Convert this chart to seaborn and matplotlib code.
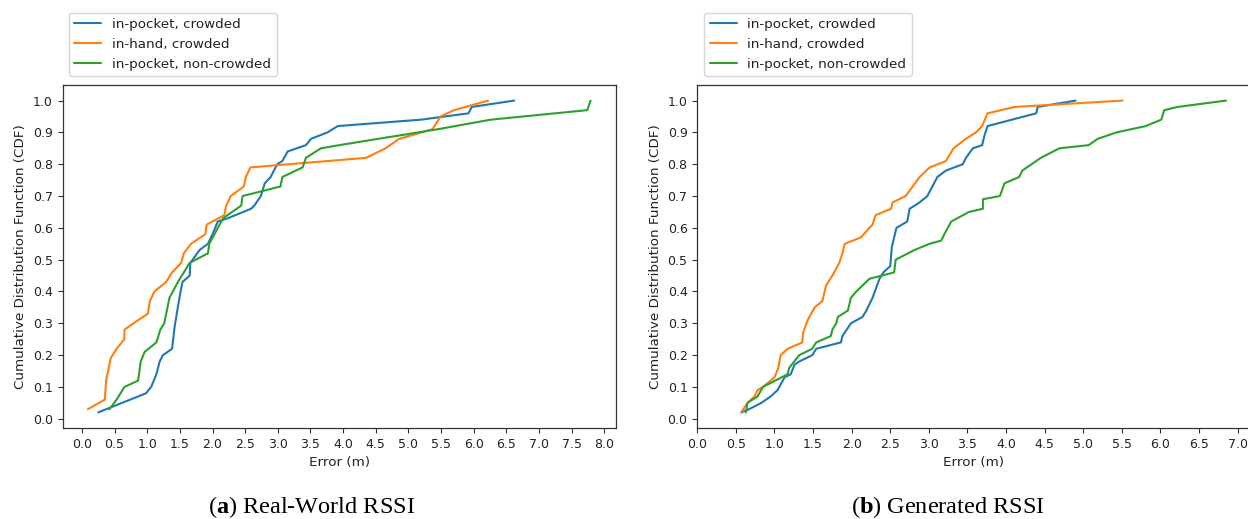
import matplotlib
matplotlib.use("Agg")
import matplotlib.pyplot as plt
import numpy as np
import pandas as pd
import seaborn as sns
from matplotlib.ticker import MultipleLocator

# ---------------- data ----------------
series_labels = ["in-pocket, crowded", "in-hand, crowded", "in-pocket, non-crowded"]
panel_captions = [r"($\mathbf{a}$) Real-World RSSI", r"($\mathbf{b}$) Generated RSSI"]
x_label = "Error (m)"
y_label = "Cumulative Distribution Function (CDF)"

# (a) Real-world RSSI
real_pocket_crowded_x = [0.25, 0.98, 1.06, 1.14, 1.19, 1.24, 1.38, 1.42, 1.46, 1.51, 1.54, 1.65, 1.66,
                         1.80, 1.93, 2.00, 2.08, 2.23, 2.59, 2.64, 2.74, 2.80, 2.89, 2.99, 3.07, 3.15,
                         3.43, 3.51, 3.76, 3.92, 5.19, 5.92, 5.97, 6.62]
real_pocket_crowded_y = [0.02, 0.08, 0.10, 0.14, 0.18, 0.20, 0.22, 0.29, 0.34, 0.40, 0.43, 0.45, 0.49,
                         0.53, 0.55, 0.58, 0.62, 0.63, 0.66, 0.67, 0.70, 0.74, 0.76, 0.80, 0.81, 0.84,
                         0.86, 0.88, 0.90, 0.92, 0.94, 0.96, 0.98, 1.00]

real_hand_crowded_x = [0.09, 0.35, 0.37, 0.40, 0.44, 0.53, 0.65, 0.65, 0.86, 1.01, 1.04, 1.11, 1.29,
                       1.38, 1.52, 1.56, 1.67, 1.89, 1.91, 2.18, 2.21, 2.28, 2.48, 2.51, 2.58, 4.35,
                       4.65, 4.86, 5.37, 5.49, 5.70, 6.22]
real_hand_crowded_y = [0.03, 0.06, 0.12, 0.15, 0.19, 0.22, 0.25, 0.28, 0.31, 0.33, 0.37, 0.40, 0.43,
                       0.46, 0.49, 0.52, 0.55, 0.58, 0.61, 0.64, 0.67, 0.70, 0.73, 0.76, 0.79, 0.82,
                       0.85, 0.88, 0.91, 0.95, 0.97, 1.00]

real_pocket_noncrowded_x = [0.42, 0.53, 0.65, 0.86, 0.90, 0.96, 1.14, 1.20, 1.26, 1.29, 1.34, 1.47, 1.65,
                            1.93, 1.95, 2.16, 2.44, 2.46, 3.04, 3.07, 3.38, 3.43, 3.66, 3.94, 5.45, 6.26,
                            7.74, 7.79]
real_pocket_noncrowded_y = [0.03, 0.06, 0.10, 0.12, 0.18, 0.21, 0.24, 0.28, 0.30, 0.33, 0.38, 0.43, 0.49,
                            0.52, 0.55, 0.63, 0.67, 0.70, 0.73, 0.76, 0.79, 0.82, 0.85, 0.86, 0.91, 0.94,
                            0.97, 1.00]

# (b) Generated RSSI
gen_pocket_crowded_x = [0.57, 0.67, 0.83, 0.95, 1.04, 1.13, 1.21, 1.26, 1.32, 1.49, 1.54, 1.86, 1.88,
                        1.99, 2.14, 2.19, 2.27, 2.36, 2.41, 2.50, 2.52, 2.58, 2.72, 2.75, 2.88, 2.98,
                        3.11, 3.22, 3.44, 3.48, 3.57, 3.69, 3.72, 3.76, 4.39, 4.41, 4.90]
gen_pocket_crowded_y = [0.02, 0.03, 0.05, 0.07, 0.09, 0.13, 0.14, 0.17, 0.18, 0.20, 0.22, 0.24, 0.26,
                        0.30, 0.32, 0.34, 0.38, 0.44, 0.46, 0.48, 0.54, 0.60, 0.62, 0.66, 0.68, 0.70,
                        0.76, 0.78, 0.80, 0.82, 0.85, 0.86, 0.89, 0.92, 0.96, 0.98, 1.00]

gen_hand_crowded_x = [0.57, 0.65, 0.74, 0.78, 0.85, 1.00, 1.05, 1.08, 1.17, 1.36, 1.37, 1.43, 1.52,
                      1.62, 1.67, 1.75, 1.84, 1.88, 1.91, 2.12, 2.23, 2.27, 2.31, 2.51, 2.53, 2.70,
                      2.79, 2.88, 3.01, 3.22, 3.32, 3.48, 3.61, 3.69, 3.76, 4.11, 5.51]
gen_hand_crowded_y = [0.02, 0.05, 0.07, 0.09, 0.10, 0.13, 0.16, 0.20, 0.22, 0.24, 0.27, 0.31, 0.35,
                      0.37, 0.42, 0.45, 0.49, 0.52, 0.55, 0.57, 0.60, 0.61, 0.64, 0.66, 0.68, 0.70,
                      0.73, 0.76, 0.79, 0.81, 0.85, 0.88, 0.90, 0.92, 0.96, 0.98, 1.00]

gen_pocket_noncrowded_x = [0.63, 0.65, 0.78, 0.85, 1.17, 1.19, 1.32, 1.49, 1.54, 1.73, 1.75, 1.80, 1.82,
                           1.95, 1.99, 2.06, 2.23, 2.55, 2.57, 2.81, 3.01, 3.16, 3.20, 3.29, 3.52, 3.70,
                           3.70, 3.92, 3.98, 4.17, 4.21, 4.45, 4.69, 5.07, 5.19, 5.43, 5.81, 6.01, 6.05,
                           6.22, 6.85]
gen_pocket_noncrowded_y = [0.02, 0.05, 0.07, 0.10, 0.14, 0.16, 0.20, 0.22, 0.24, 0.26, 0.28, 0.30, 0.32,
                           0.34, 0.38, 0.40, 0.44, 0.46, 0.50, 0.53, 0.55, 0.56, 0.58, 0.62, 0.65, 0.66,
                           0.69, 0.70, 0.74, 0.76, 0.78, 0.82, 0.85, 0.86, 0.88, 0.90, 0.92, 0.94, 0.97,
                           0.98, 1.00]

panels = [
    [(real_pocket_crowded_x, real_pocket_crowded_y),
     (real_hand_crowded_x, real_hand_crowded_y),
     (real_pocket_noncrowded_x, real_pocket_noncrowded_y)],
    [(gen_pocket_crowded_x, gen_pocket_crowded_y),
     (gen_hand_crowded_x, gen_hand_crowded_y),
     (gen_pocket_noncrowded_x, gen_pocket_noncrowded_y)],
]

# ---------------- style ----------------
sns.set_theme(style="ticks", rc={
    "axes.edgecolor": "#333333", "axes.linewidth": 0.9,
    "xtick.color": "#333333", "ytick.color": "#333333",
    "xtick.labelcolor": "#222222", "ytick.labelcolor": "#222222",
    "xtick.major.size": 3.5, "ytick.major.size": 3.5,
    "xtick.major.width": 0.8, "ytick.major.width": 0.8,
    "xtick.labelsize": 9.0, "ytick.labelsize": 9.0,
    "axes.labelsize": 9.7, "axes.labelcolor": "#222222",
    "text.color": "#222222",
})
plt.rcParams["font.family"] = ["DejaVu Sans"]
plt.rcParams["mathtext.fontset"] = "custom"
plt.rcParams["mathtext.rm"] = "Liberation Serif"
plt.rcParams["mathtext.bf"] = "Liberation Serif:bold"

palette = ["#1f77b4", "#ff7f0e", "#2ca02c"]

W, H = 1248, 519
fig = plt.figure(figsize=(W / 100, H / 100), dpi=100)

ax_rects = [
    (62.7 / W, 1 - 428 / H, 553 / W, 343 / H),
    (697.3 / W, 1 - 428 / H, 553 / W, 343 / H),
]
legend_anchor = [(69 / W, 1 - 12.7 / H), (704.3 / W, 1 - 12.7 / H)]
caption_pos = [(312 / W, 1 - 507 / H), (948 / W, 1 - 507 / H)]

for i, series in enumerate(panels):
    ax = fig.add_axes(ax_rects[i])
    frames = []
    for lab, (xs, ys) in zip(series_labels, series):
        frames.append(pd.DataFrame({"x": xs, "y": ys, "series": lab}))
    df = pd.concat(frames, ignore_index=True)
    sns.lineplot(data=df, x="x", y="y", hue="series", hue_order=series_labels,
                 palette=palette, sort=False, estimator=None, linewidth=1.5, ax=ax)
    handles, labels = ax.get_legend_handles_labels()
    if ax.legend_ is not None:
        ax.legend_.remove()
    ax.xaxis.set_major_locator(MultipleLocator(0.5))
    ax.yaxis.set_major_locator(MultipleLocator(0.1))
    ax.set_xlabel(x_label)
    ax.set_ylabel(y_label)
    if i == 1:
        ax.set_xlim(left=0)
    for s in ax.spines.values():
        s.set_visible(True)
    leg = ax.legend(handles, labels, loc="upper left", bbox_to_anchor=legend_anchor[i],
                    bbox_transform=fig.transFigure, borderaxespad=0, fontsize=9.7,
                    frameon=True, fancybox=True, framealpha=0.8, edgecolor="0.8",
                    facecolor="white", title=None)
    fig.text(caption_pos[i][0], caption_pos[i][1], panel_captions[i], ha="center", va="center",
             fontsize=17.5, family="Liberation Serif", color="black")

fig.savefig("out.png", dpi=100)
